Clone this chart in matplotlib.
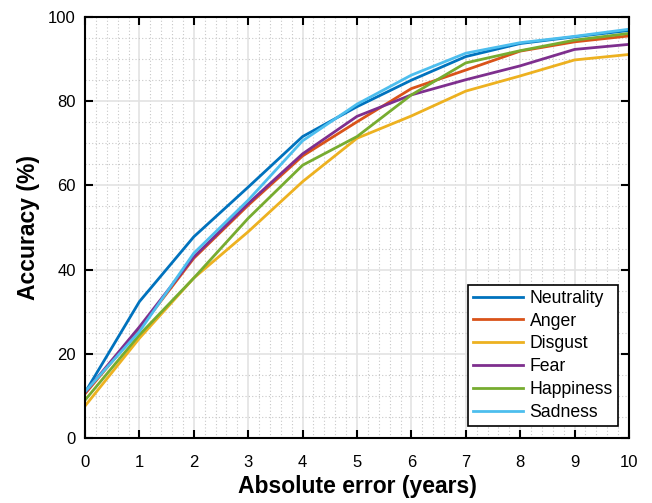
import numpy as np
import matplotlib.pyplot as plt
from matplotlib.ticker import MultipleLocator

plt.rcParams['font.family'] = ['Liberation Sans', 'DejaVu Sans']

# absolute error (years)
err = [0, 1, 2, 3, 4, 5, 6, 7, 8, 9, 10]

# accuracy (%) per emotion
neutrality = [10.8, 32.4, 47.8, 59.6, 71.6, 78.7, 85.0, 90.6, 93.7, 95.3, 96.8]
anger      = [10.5, 25.9, 42.7, 55.3, 67.0, 75.1, 83.0, 87.4, 91.9, 94.1, 95.5]
disgust    = [7.6, 23.7, 38.0, 49.0, 60.9, 71.2, 76.5, 82.4, 86.0, 89.8, 91.1]
fear       = [10.8, 26.4, 43.0, 55.7, 67.5, 76.4, 81.5, 85.1, 88.4, 92.3, 93.5]
happiness  = [9.0, 24.5, 38.0, 52.2, 64.8, 71.6, 81.5, 89.1, 92.0, 94.5, 96.1]
sadness    = [11.0, 25.3, 43.9, 56.5, 70.6, 79.3, 86.2, 91.4, 93.9, 95.4, 97.1]

labels = ['Neutrality', 'Anger', 'Disgust', 'Fear', 'Happiness', 'Sadness']
series = [neutrality, anger, disgust, fear, happiness, sadness]
colors = ['#0072BD', '#D95319', '#EDB120', '#7E2F8E', '#77AC30', '#4DBEEE']

fig = plt.figure(figsize=(6.52, 5.03), dpi=100)
ax = fig.add_axes([0.1304, 0.1292, 0.8343, 0.8370])

for y, lab, c in zip(series, labels, colors):
    ax.plot(err, y, color=c, lw=2.0, label=lab)

ax.set_xlim(0, 10)
ax.set_ylim(0, 100)
ax.xaxis.set_major_locator(MultipleLocator(1))
ax.xaxis.set_minor_locator(MultipleLocator(0.2))
ax.yaxis.set_major_locator(MultipleLocator(20))
ax.yaxis.set_minor_locator(MultipleLocator(5))

ax.grid(True, which='major', color='#e3e3e3', lw=1.2, ls='-')
ax.grid(True, which='minor', color='#c8c8c8', lw=0.8, ls=(0, (1, 2)))
ax.set_axisbelow(True)

ax.tick_params(which='major', direction='in', length=6, width=1.5,
               top=True, right=True, labelsize=12)
ax.tick_params(axis='x', which='major', pad=12)
ax.tick_params(axis='y', which='major', pad=6.5)
ax.tick_params(which='minor', length=0, top=True, right=True)
for s in ax.spines.values():
    s.set_linewidth(1.5)

ax.set_xlabel('Absolute error (years)', fontsize=16.5, fontweight='bold', labelpad=4)
ax.set_ylabel('Accuracy (%)', fontsize=16.5, fontweight='bold', labelpad=6)

leg = ax.legend(loc='lower right', bbox_to_anchor=(0.98, 0.028), fontsize=12.7,
                frameon=True, fancybox=False, framealpha=1, edgecolor='black',
                handlelength=2.8, handletextpad=0.4, labelspacing=0.33,
                borderpad=0.3, borderaxespad=0)
leg.get_frame().set_linewidth(1.2)

plt.savefig('out.png', dpi=100)
